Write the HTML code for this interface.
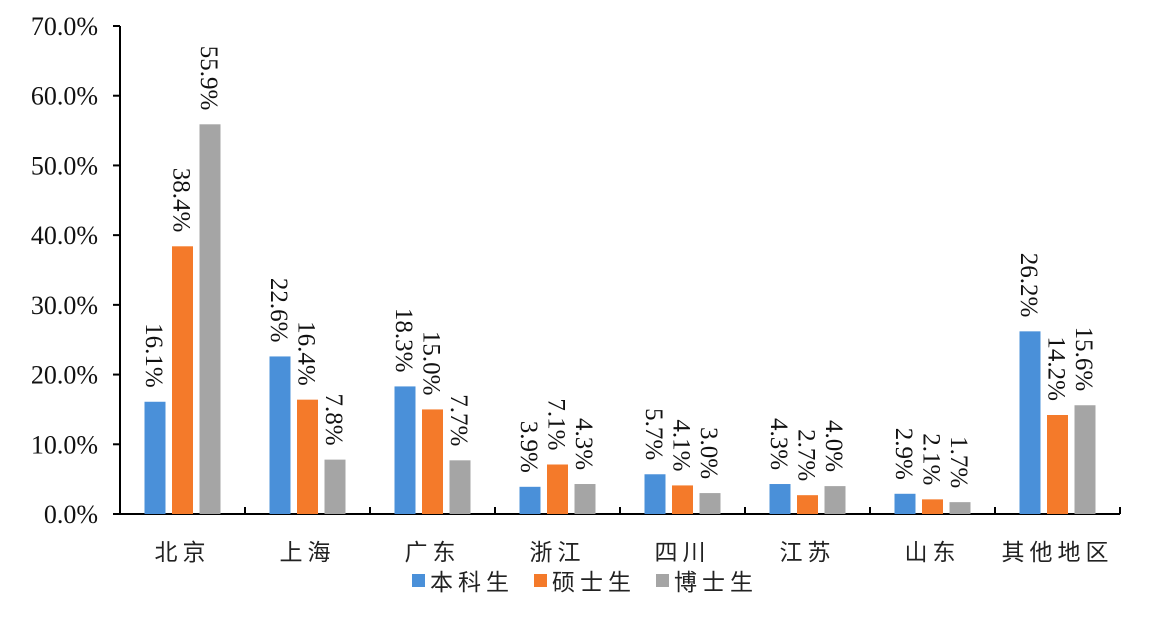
<!DOCTYPE html>
<html><head><meta charset="utf-8"><style>
body{margin:0;background:#fff;}
svg{display:block;}
</style></head><body>
<svg id="chart" width="1156" height="618" xmlns="http://www.w3.org/2000/svg"></svg>
<script>
const categories=["北京","上海","广东","浙江","四川","江苏","山东","其他地区"];
const seriesNames=["本科生","硕士生","博士生"];
const undergrad=[16.1,22.6,18.3,3.9,5.7,4.3,2.9,26.2];
const master=[38.4,16.4,15.0,7.1,4.1,2.7,2.1,14.2];
const phd=[55.9,7.8,7.7,4.3,3.0,4.0,1.7,15.6];
const yTicks=[0,10,20,30,40,50,60,70];
const colors=["#4a90d9","#f47a2a","#a5a5a5"];
const NS="http://www.w3.org/2000/svg";
const svg=document.getElementById('chart');
const x0=120,band=125,y0=514,yTop=26,yMax=70;
const y=v=>y0-(v/yMax)*(y0-yTop);
const xc=i=>x0+band*i+band/2;
function el(t,a){const e=document.createElementNS(NS,t);for(const k in a)e.setAttribute(k,a[k]);svg.appendChild(e);return e;}
const serif='"Liberation Serif",serif', cjk='"Liberation Sans","Noto Sans CJK SC",sans-serif';
let ax=el('line',{x1:x0,y1:yTop,x2:x0,y2:y0,stroke:'#000','stroke-width':2});

yTicks.forEach(t=>{
  const l=el('line',{x1:x0-7,x2:x0,y1:y(t),y2:y(t),stroke:'#000','stroke-width':2});
  
  const tx=el('text',{x:98,y:y(t)+9,'text-anchor':'end','font-family':serif,'font-size':26,fill:'#111'});
  tx.textContent=t.toFixed(1)+'%';
  
});
let xa=el('line',{x1:x0,y1:y0,x2:x0+band*categories.length,y2:y0,stroke:'#000','stroke-width':2});

for(let i=1;i<=categories.length;i++){
  const l=el('line',{x1:x0+band*i,x2:x0+band*i,y1:y0,y2:y0-7,stroke:'#000','stroke-width':2});
  
}
const series=[undergrad,master,phd];
categories.forEach((c,i)=>{
  series.forEach((s,j)=>{
    const cx=xc(i)+(j-1)*27.5;
    const r=el('rect',{x:cx-10.5,y:y(s[i]),width:21,height:y0-y(s[i]),fill:colors[j]});
    
    const ty=y(s[i])-14;
    const t=el('text',{x:0,y:0,transform:`translate(${cx-9},${ty}) rotate(90)`,'text-anchor':'end','font-family':serif,'font-size':25,fill:'#111'});
    t.textContent=s[i].toFixed(1)+'%';
    
  });
  const t=el('text',{x:xc(i),y:560,'text-anchor':'middle','font-family':cjk,'font-size':23,fill:'#222','letter-spacing':5});
  t.textContent=c;
  
});
const lx=[412,534,656];
seriesNames.forEach((n,j)=>{
  const r=el('rect',{x:lx[j],y:574,width:13,height:13,fill:colors[j]});
  
  const t=el('text',{x:lx[j]+18,y:590,'font-family':cjk,'font-size':23,fill:'#222','letter-spacing':5});
  t.textContent=n;
  
});
</script>
</body></html>
